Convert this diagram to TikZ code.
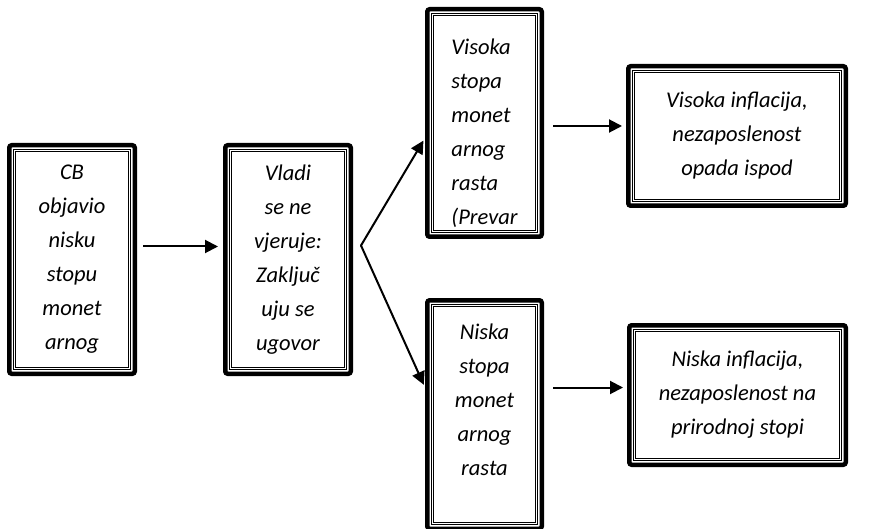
\documentclass[tikz,border=0pt]{standalone}
\usepackage{fontspec}
\setmainfont{Carlito}
\usetikzlibrary{positioning,arrows.meta,calc}

\newcommand{\boxfont}{\fontsize{22.5}{34}\selectfont\itshape}

\tikzset{
    box/.style={draw, line width=4.5pt, rounded corners=2.5pt, align=center, font=\boxfont, inner sep=0pt},
    inner/.style={draw, line width=0.7pt, double, double distance=1.5pt},
    arr/.style={-{Triangle[length=13pt,width=13pt]}, line width=2pt, shorten <=6pt, shorten >=5pt},
}

\begin{document}
\begin{tikzpicture}
    \useasboundingbox (0,0) rectangle (896pt,-529pt);

    \node[box, minimum width=125.5pt, minimum height=228.5pt] (cb) at (72pt,-259.5pt)
        {CB\\objavio\\nisku\\stopu\\monet\\arnog};
    \node[box, minimum width=125.5pt, minimum height=228.5pt, right=86pt of cb] (vladi)
        {Vladi\\se ne\\vjeruje:\\Zaključ\\uju se\\ugovor};

    \node[box, align=left, minimum width=114.5pt, minimum height=227.5pt] (hi) at (484.5pt,-123pt)
        {\rule{0pt}{36pt}Visoka\\stopa\\monet\\arnog\\rasta\\(Prevar};
    \node[box, minimum width=217.5pt, minimum height=139.5pt, right=82pt of hi, yshift=-13pt] (hiout)
        {Visoka inflacija,\\nezaposlenost\\opada ispod};

    \node[box, minimum width=114.5pt, minimum height=228.5pt] (lo) at (484.5pt,-414.5pt)
        {Niska\\stopa\\monet\\arnog\\rasta\rule[-30pt]{0pt}{30pt}};
    \node[box, minimum width=216.5pt, minimum height=139.5pt, right=83pt of lo, yshift=19.5pt] (loout)
        {Niska inflacija,\\nezaposlenost na\\prirodnoj stopi};

    % thin double line inside each box
    \foreach \n in {cb,vladi,hi,hiout,lo,loout}
        \draw[inner] ([shift={(7.3pt,7.3pt)}]\n.south west) rectangle ([shift={(-7.3pt,-7.3pt)}]\n.north east);

    \coordinate (fork) at ([shift={(8pt,14pt)}]vladi.east);

    \draw[arr] ([yshift=13pt]cb.east) -- ([yshift=13pt]cb.east -| vladi.west);
    \draw[arr, shorten <=0pt, shorten >=3pt, line cap=round] (fork) -- ([yshift=-15pt]hi.west);
    \draw[arr, shorten <=0pt, shorten >=3pt, line cap=round] (fork) -- ([yshift=27pt]lo.west);
    \draw[arr, shorten <=9pt, shorten >=4pt] ([yshift=-3pt]hi.east) -- ([yshift=-3pt]hi.east -| hiout.west);
    \draw[arr, shorten <=9pt, shorten >=4pt] ([yshift=27pt]lo.east) -- ([yshift=27pt]lo.east -| loout.west);
\end{tikzpicture}
\end{document}
